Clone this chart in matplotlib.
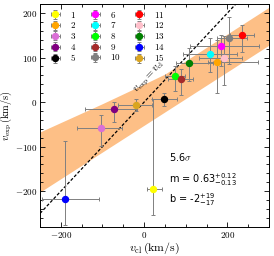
import matplotlib
matplotlib.use("Agg")
import matplotlib.pyplot as plt
import numpy as np
from matplotlib.ticker import MultipleLocator, FuncFormatter

plt.rcParams['mathtext.fontset'] = 'cm'
plt.rcParams['font.family'] = ['DejaVu Serif']

labels = ['1', '2', '3', '4', '5', '6', '7', '8', '9', '10', '11', '12', '13', '14', '15']
colors = ['yellow', 'orange', 'orchid', 'purple', 'black', 'magenta', 'cyan', 'lime',
          'brown', 'grey', 'red', 'pink', 'green', 'blue', 'goldenrod']
v_cl = [21, 174, -104, -72, 48, 184, 157, 74, 88, 203, 236, 191, 108, -189, -20]
v_exp = [-194, 90, -58, -16, 6, 126, 108, 58, 52, 145, 151, 98, 87, -218, -6]
xerr_lo = [15, 20, 58, 70, 30, 74, 63, 25, 30, 29, 31, 60, 32, 56, 43]
xerr_hi = [23, 100, 50, 54, 30, 93, 65, 25, 30, 43, 29, 43, 58, 81, 40]
yerr_lo = [59, 70, 41, 28, 15, 45, 40, 34, 36, 60, 38, 60, 40, 57, 14]
yerr_hi = [200, 50, 29, 16, 15, 25, 35, 22, 22, 45, 22, 50, 35, 131, 14]

band_x = [-250, -100, 0, 50, 150, 300]
band_lo = [-202, -112, -52, -22, 38, 128]
band_hi = [-67, -3.5, 40.5, 63, 123, 213]

fig = plt.figure(figsize=(2.74, 2.56), dpi=100)
ax = fig.add_axes([0.146, 0.114, 0.836, 0.870])

ax.fill_between(band_x, band_lo, band_hi, color='#fdbf86', lw=0, zorder=1)
xl = np.array([-250, 300])
ax.plot(xl, xl, 'k--', lw=0.9, zorder=2, dashes=(2.5, 1.5))
ax.text(14, 55, r'$v_{\rm exp}=v_{\rm cl}$', rotation=46.8, fontsize=7.5,
        ha='center', va='center', rotation_mode='anchor', zorder=3)

for i in range(len(labels)):
    ax.errorbar(v_cl[i], v_exp[i], xerr=[[xerr_lo[i]], [xerr_hi[i]]],
                yerr=[[yerr_lo[i]], [yerr_hi[i]]], fmt='o', color=colors[i],
                ecolor='grey', elinewidth=0.7, capsize=1.6, capthick=0.7,
                markersize=4.3, label='$' + labels[i] + '$', zorder=4)

ax.set_xlim(-250, 300)
ax.set_ylim(-280, 220)
ax.xaxis.set_major_locator(MultipleLocator(200))
ax.xaxis.set_minor_locator(MultipleLocator(50))
ax.yaxis.set_major_locator(MultipleLocator(100))
ax.yaxis.set_minor_locator(MultipleLocator(20))
fmt = FuncFormatter(lambda v, p: '$%d$' % v)
ax.xaxis.set_major_formatter(fmt)
ax.yaxis.set_major_formatter(fmt)
ax.tick_params(which='both', direction='in', top=True, right=True, labelsize=6.5, width=0.6)
ax.tick_params(which='major', length=3.5, pad=2)
ax.tick_params(which='minor', length=2)
for s in ax.spines.values():
    s.set_linewidth(0.7)

ax.set_xlabel(r'$v_{\rm cl}\,(\rm km/s)$', fontsize=8.5, labelpad=1)
ax.set_ylabel(r'$v_{\rm exp}\,(\rm km/s)$', fontsize=7.5)
ax.yaxis.set_label_coords(-0.112, 0.5)

ax.text(0.562, 0.313, r'5.6$\sigma$', transform=ax.transAxes, fontsize=7,
        family='DejaVu Sans', va='center', math_fontfamily='cm')
ax.text(0.562, 0.214, r'm = 0.63$^{+0.12}_{-0.13}$', transform=ax.transAxes, fontsize=7,
        family='DejaVu Sans', va='center', math_fontfamily='dejavusans')
ax.text(0.562, 0.121, r'b = -2$^{+19}_{-17}$', transform=ax.transAxes, fontsize=7,
        family='DejaVu Sans', va='center', math_fontfamily='dejavusans')

ax.legend(loc='upper left', ncol=3, frameon=False, fontsize=6.5, handlelength=1.2,
          columnspacing=1.5, labelspacing=0.08, handletextpad=1.0,
          borderaxespad=0.2, bbox_to_anchor=(0.02, 1.0))

fig.savefig('out.png', dpi=100)
